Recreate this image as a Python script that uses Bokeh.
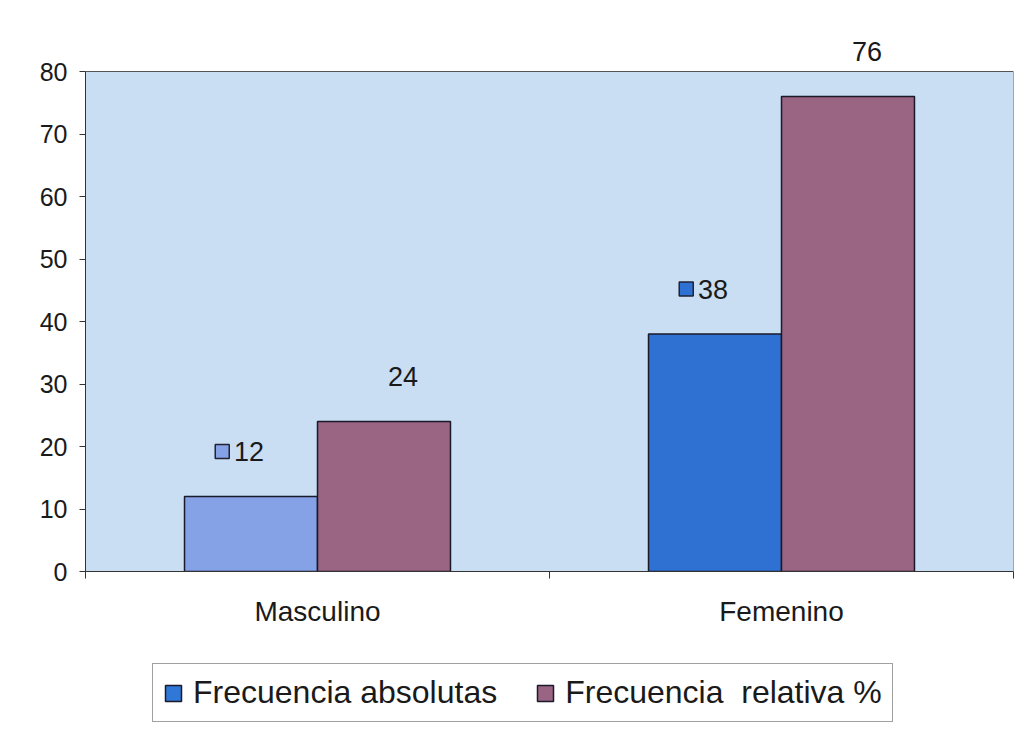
from bokeh.plotting import figure
from bokeh.models import ColumnDataSource, FixedTicker, Legend, LegendItem, LabelSet
from bokeh.core.properties import value
from bokeh.layouts import column
from bokeh.embed import file_html
from bokeh.resources import INLINE

categories = ["Masculino", "Femenino"]
absolutas = [12, 38]
relativa = [24, 76]
series_names = ["Frecuencia absolutas", "Frecuencia  relativa %"]
y_ticks = [0, 10, 20, 30, 40, 50, 60, 70, 80]
y_max = 80

abs_colors = ["#86a2e6", "#2f71d3"]
abs_key_color = "#2f78d8"
rel_color = "#9a6483"
bg = "#c9def2"
FONT = "Liberation Sans"

W = 1019
H1 = 640
H2 = 96
TOP = 30          # frame top (room above the plot area for labels)
AREA_TOP = 71     # pixel row of y_max
BOTTOM = 69
LEFT = 85
frame_h = H1 - TOP - BOTTOM
ppu = (H1 - BOTTOM - AREA_TOP) / y_max
y_end = frame_h / ppu

p = figure(width=W, height=H1, output_backend="svg", toolbar_location=None,
           x_range=(0, len(categories)), y_range=(0, y_end),
           min_border_left=LEFT, min_border_right=6, min_border_top=TOP, min_border_bottom=BOTTOM)
p.background_fill_color = "white"
p.border_fill_color = "white"
p.outline_line_color = None
p.xgrid.visible = False
p.ygrid.visible = False

# plot area
p.quad(left=[0], right=[len(categories)], bottom=[0], top=[y_max],
       fill_color=bg, line_color="#555555", line_width=1)

centers = [i + 0.5 for i in range(len(categories))]
bw = 0.2866
src1 = ColumnDataSource(dict(x=[c - bw / 2 for c in centers], top=absolutas,
                             color=abs_colors, lab=[str(v) for v in absolutas],
                             sx=[c - bw / 2 - 0.062 for c in centers],
                             sy=[v + 45 / ppu for v in absolutas]))
src2 = ColumnDataSource(dict(x=[c + bw / 2 for c in centers], top=relativa,
                             lab=[str(v) for v in relativa]))

r1 = p.vbar(x="x", top="top", width=bw, bottom=0, source=src1, fill_color="color",
            line_color="#1a1a2a", line_width=1.5)
r2 = p.vbar(x="x", top="top", width=bw, bottom=0, source=src2, fill_color=rel_color,
            line_color="#1a1a2a", line_width=1.5)

# data labels
p.add_layout(LabelSet(x="x", y="top", text="lab", source=src1, x_offset=-17, y_offset=45,
                      text_align="left", text_baseline="middle", text_font=value(FONT),
                      text_font_size="27px", text_color="#1a1a1a"))
p.scatter(x="sx", y="sy", source=src1, marker="square", size=14,
          fill_color="color", line_color="#222233", line_width=1.5)
p.add_layout(LabelSet(x="x", y="top", text="lab", source=src2, x_offset=4, y_offset=45,
                      text_align="left", text_baseline="middle", text_font=value(FONT),
                      text_font_size="27px", text_color="#1a1a1a"))

# y axis
ya = p.yaxis[0]
ya.ticker = FixedTicker(ticks=y_ticks)
ya.bounds = (0, y_max)
ya.major_tick_out = 6
ya.major_tick_in = 0
ya.minor_tick_out = 0
ya.minor_tick_in = 0
ya.axis_line_color = "#333333"
ya.major_tick_line_color = "#333333"
ya.major_label_standoff = 12
ya.major_label_text_font = FONT
ya.major_label_text_font_size = "25px"
ya.major_label_text_color = "#1a1a1a"

# x axis
xa = p.xaxis[0]
xa.ticker = FixedTicker(ticks=centers, minor_ticks=list(range(len(categories) + 1)))
xa.major_label_overrides = {c: n for c, n in zip(centers, categories)}
xa.major_tick_out = 0
xa.major_tick_in = 0
xa.minor_tick_out = 7
xa.minor_tick_in = 0
xa.minor_tick_line_color = "#333333"
xa.axis_line_color = "#333333"
xa.major_label_standoff = 17
xa.major_label_text_font = FONT
xa.major_label_text_font_size = "28px"
xa.major_label_text_color = "#1a1a1a"

# legend figure (frames are aligned by the column layout)
q = figure(width=W, height=H2, output_backend="svg", toolbar_location=None,
           x_axis_type=None, y_axis_type=None, x_range=(0, 1), y_range=(0, 1),
           min_border=0)
q.outline_line_color = None
q.background_fill_color = "white"
q.border_fill_color = "white"
q.xgrid.visible = False
q.ygrid.visible = False
k1 = q.vbar(x=[0.5], bottom=[0.4], top=[0.5], width=0.05, fill_color=abs_key_color,
            line_color="#1a1a2a", line_width=1.5)
k2 = q.vbar(x=[0.5], bottom=[0.4], top=[0.5], width=0.05, fill_color=rel_color,
            line_color="#1a1a2a", line_width=1.5)
k1.visible = False
k2.visible = False
legend = Legend(items=[LegendItem(label=series_names[0], renderers=[k1]),
                       LegendItem(label=series_names[1], renderers=[k2])],
                orientation="horizontal", location=(152 - LEFT, 14),
                label_text_font=FONT, label_text_font_size="32px",
                label_text_color="#1a1a1a", glyph_width=20, glyph_height=20,
                label_standoff=10, spacing=38, padding=10, margin=0,
                border_line_color="#444444", border_line_width=1,
                background_fill_color="white", background_fill_alpha=1,
                inactive_fill_alpha=0)
q.add_layout(legend, "center")

open("out.html", "w").write(file_html(column(p, q, spacing=0), INLINE))
